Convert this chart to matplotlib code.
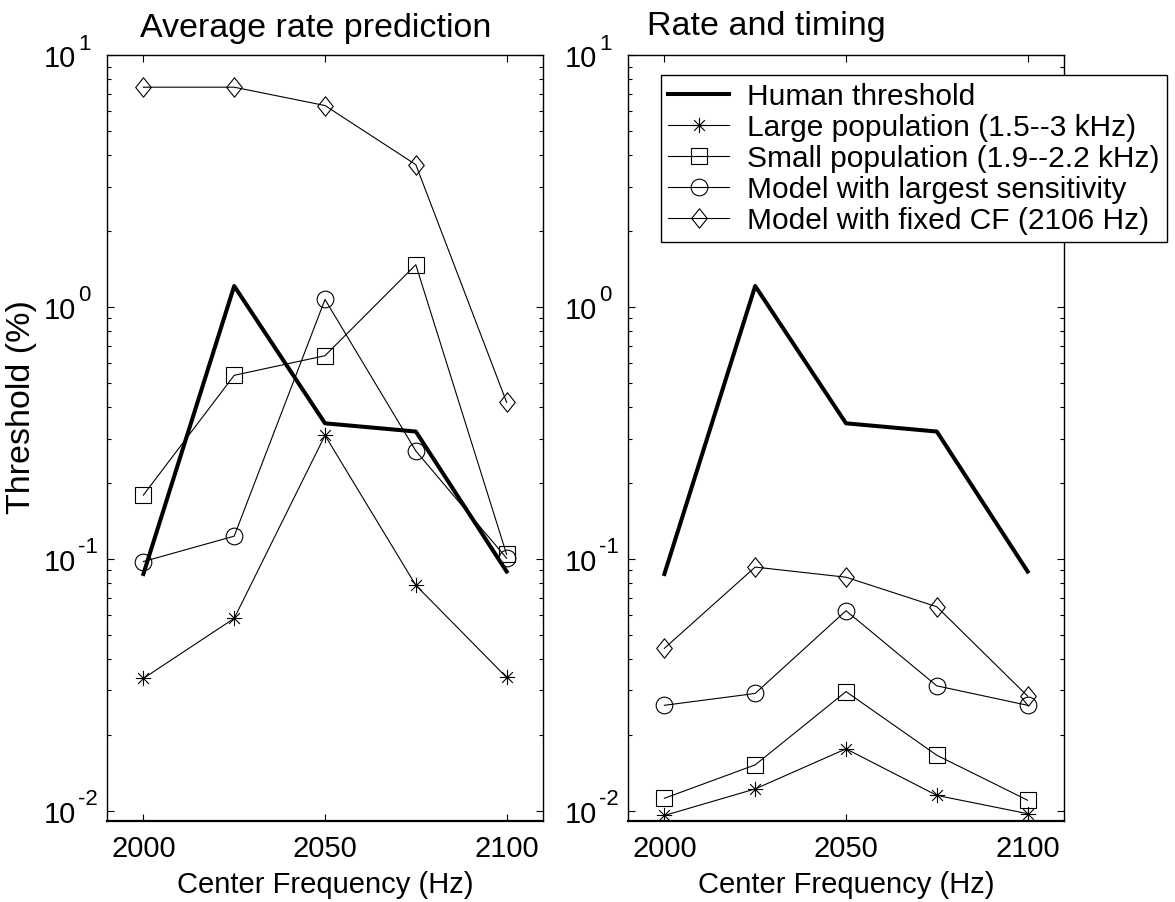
import matplotlib

matplotlib.use("Agg")
import matplotlib.pyplot as plt
from matplotlib.path import Path
from matplotlib.ticker import FixedLocator, FuncFormatter
import numpy as np

plt.rcParams.update({
    "font.family": ["Liberation Sans", "DejaVu Sans"],
    "xtick.direction": "in",
    "ytick.direction": "in",
})

# center frequencies (Hz)
freqs = [2000, 2025, 2050, 2075, 2100]

# threshold (%) values
human = [0.087, 1.21, 0.345, 0.32, 0.089]

avg_large = [0.0335, 0.058, 0.309, 0.0785, 0.0338]
avg_small = [0.179, 0.535, 0.64, 1.47, 0.104]
avg_sens = [0.0975, 0.123, 1.07, 0.268, 0.1005]
avg_fixed = [7.45, 7.45, 6.3, 3.67, 0.418]

rt_large = [0.00957, 0.0122, 0.0176, 0.0115, 0.00973]
rt_small = [0.0112, 0.0152, 0.0297, 0.0166, 0.011]
rt_sens = [0.0262, 0.0292, 0.0622, 0.0313, 0.0262]
rt_fixed = [0.0441, 0.0927, 0.0845, 0.0645, 0.0285]

labels = ["Human threshold", "Large population (1.5--3 kHz)",
          "Small population (1.9--2.2 kHz)", "Model with largest sensitivity",
          "Model with fixed CF (2106 Hz)"]
decades = [-2, -1, 0, 1]

# asterisk marker (+ and x together), like matlab's '*'
d = 0.7071
star = Path(
    [(-1, 0), (1, 0), (0, -1), (0, 1), (-d, -d), (d, d), (-d, d), (d, -d)],
    [Path.MOVETO, Path.LINETO] * 4,
)
# matlab style diamond, a bit narrower than tall
diamond = Path([(0, 1), (0.8, 0), (0, -1), (-0.8, 0), (0, 1)],
               [Path.MOVETO, Path.LINETO, Path.LINETO, Path.LINETO, Path.CLOSEPOLY])

fig = plt.figure(figsize=(11.75, 9.03), dpi=100)
ax1 = fig.add_axes([0.0911, 0.0897, 0.371, 0.8483])
ax2 = fig.add_axes([0.5345, 0.0897, 0.371, 0.8483])

thin = dict(color="black", lw=0.8, mfc="none", mec="black", mew=0.8)


def draw(ax, large, small, sens, fixed):
    h = []
    h += ax.plot(freqs, human, color="black", lw=2.9)
    h += ax.plot(freqs, large, marker=star, ms=11, **thin)
    h += ax.plot(freqs, small, marker="s", ms=12, **thin)
    h += ax.plot(freqs, sens, marker="o", ms=12, **thin)
    h += ax.plot(freqs, fixed, marker=diamond, ms=14, **thin)
    ax.set_yscale("log")
    ax.set_ylim(0.0091, 10)
    ax.set_xlim(1990, 2110)
    ax.set_xticks([2000, 2050, 2100])
    ax.yaxis.set_major_locator(FixedLocator([10.0 ** e for e in decades]))
    ax.yaxis.set_major_formatter(FuncFormatter(lambda v, p: "10"))
    ax.tick_params(which="both", top=True, right=True, width=0.8)
    ax.tick_params(which="major", length=5)
    ax.tick_params(which="minor", length=3)
    ax.tick_params(axis="x", labelsize=21, pad=9)
    ax.tick_params(axis="y", labelsize=21, pad=22)
    # exponents drawn as separate raised text, like the original
    for e in decades:
        ax.annotate(str(e), xy=(0, 10.0 ** e), xycoords=ax.get_yaxis_transform(),
                    xytext=(-21, 1), textcoords="offset points",
                    fontsize=16, ha="left", va="bottom")
    ax.set_xlabel("Center Frequency (Hz)", fontsize=21, labelpad=6)
    for s in ax.spines.values():
        s.set_linewidth(1.0)
    ax.spines["bottom"].set_linewidth(1.6)
    return h


h = draw(ax1, avg_large, avg_small, avg_sens, avg_fixed)
draw(ax2, rt_large, rt_small, rt_sens, rt_fixed)

fig.text(0.119, 0.959, "Average rate prediction", fontsize=24.5, va="baseline")
fig.text(0.5506, 0.961, "Rate and timing", fontsize=24.5, va="baseline")
fig.text(0.0187, 0.549, "Threshold (%)", fontsize=24.5, rotation=90,
         ha="center", va="center")

leg = fig.legend(h, labels, loc="upper left", bbox_to_anchor=(0.5623, 0.9158),
                 fontsize=21.5, frameon=True, fancybox=False, framealpha=1,
                 edgecolor="black", labelspacing=0.1, handlelength=2.05,
                 handletextpad=0.6, borderpad=0.25, borderaxespad=0)
leg.get_frame().set_linewidth(1.0)

fig.savefig("out.png", dpi=100)
